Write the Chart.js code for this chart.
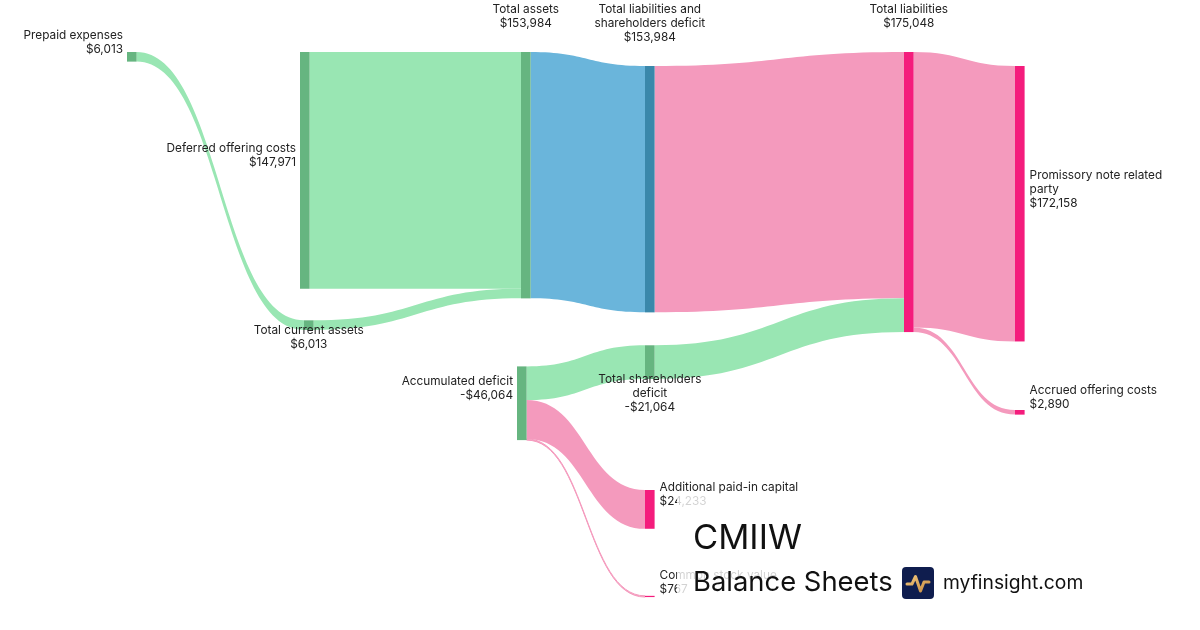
<!DOCTYPE html>
<html lang="en">
<head>
<meta charset="UTF-8">
<title>CMIIW Balance Sheets</title>
<script src="https://cdn.jsdelivr.net/npm/chart.js@4"></script>
<style>
    html, body { margin: 0; padding: 0; background: #fff; }
    #wrap { position: relative; width: 1200px; height: 630px; overflow: hidden; }
    #brand { position: absolute; left: 677px; top: 496px; width: 440px; height: 134px;
             background: rgba(255, 255, 255, 0.8); font-family: Inter, sans-serif; color: #111; }
    #brand span { position: absolute; line-height: 1; white-space: nowrap; }
    #ticker { left: 16px; top: 23.5px; font-size: 34.5px; }
    #sheet { left: 16px; top: 72.3px; font-size: 27.4px; }
    #site { left: 266px; top: 77.4px; font-size: 19.3px; }
    #logo { position: absolute; left: 225px; top: 71px; }
</style>
</head>
<body>
<div id="wrap">
    <canvas id="sankey" width="1200" height="630"></canvas>
    <div id="brand">
        <span id="ticker">CMIIW</span>
        <span id="sheet">Balance Sheets</span>
        <svg id="logo" width="32" height="32" viewBox="0 0 32 32">
            <defs>
                <linearGradient id="gold" x1="0" y1="0" x2="1" y2="1">
                    <stop offset="0" stop-color="#f0c47a"/>
                    <stop offset="1" stop-color="#c98f45"/>
                </linearGradient>
            </defs>
            <rect width="32" height="32" rx="4" fill="#0f1d4e"/>
            <polyline points="5,17 10,17 13.5,9.5 18.5,24 22,15 27,15" fill="none"
                      stroke="url(#gold)" stroke-width="3" stroke-linecap="round" stroke-linejoin="round"/>
        </svg>
        <span id="site">myfinsight.com</span>
    </div>
</div>

<script>
    // ---- data ----
    var nodeNames = [
        'Prepaid expenses',
        'Deferred offering costs',
        'Total current assets',
        'Total assets',
        'Accumulated deficit',
        'Total liabilities and shareholders deficit',
        'Total shareholders deficit',
        'Additional paid-in capital',
        'Common stock value',
        'Total liabilities',
        'Promissory note related party',
        'Accrued offering costs'
    ];
    var nodeValues = [6013, 147971, 6013, 153984, -46064, 153984, -21064, 24233, 767, 175048, 172158, 2890];

    var linkFrom = ['Prepaid expenses', 'Deferred offering costs', 'Total current assets', 'Total assets',
        'Accumulated deficit', 'Accumulated deficit', 'Accumulated deficit',
        'Total liabilities and shareholders deficit', 'Total shareholders deficit',
        'Total liabilities', 'Total liabilities'];
    var linkTo = ['Total current assets', 'Total assets', 'Total assets', 'Total liabilities and shareholders deficit',
        'Total shareholders deficit', 'Additional paid-in capital', 'Common stock value',
        'Total liabilities', 'Total liabilities',
        'Promissory note related party', 'Accrued offering costs'];
    var linkValues = [6013, 147971, 6013, 153984, 21064, 24233, 767, 153984, 21064, 172158, 2890];

    // ---- layout (x in px columns, top in value units) ----
    var NODE_W = 9.6;
    var nodeX   = [127, 300, 304, 521, 517, 645, 645, 645, 645, 904, 1015, 1015];
    var nodeTop = [32500, 32500, 200200, 32500, 229000, 41250, 215800, 306250, 372400, 32500, 41250, 256250];
    var labelSide = ['left', 'left', 'bottom', 'top', 'left', 'top', 'bottom', 'right', 'right', 'top', 'right', 'right'];

    // ---- styles ----
    var GREEN = { node: '#66b580', link: '#99e6b3' };
    var BLUE  = { node: '#3a88ab', link: '#6ab5db' };
    var PINK  = { node: '#f41c7c', link: '#f49abd' };
    var nodeColor = [GREEN, GREEN, GREEN, GREEN, GREEN, BLUE, GREEN, PINK, PINK, PINK, PINK, PINK];
    var linkColor = [GREEN, GREEN, GREEN, BLUE, GREEN, PINK, PINK, PINK, GREEN, PINK, PINK];

    function money(v) {
        return (v < 0 ? '-$' : '$') + Math.abs(v).toLocaleString('en-US');
    }

    function wrap(ctx, text, maxW) {
        if (!maxW) return [text];
        var words = text.split(' '), lines = [], line = '';
        words.forEach(function (w) {
            var test = line ? line + ' ' + w : w;
            if (line && ctx.measureText(test).width > maxW) {
                lines.push(line);
                line = w;
            } else {
                line = test;
            }
        });
        lines.push(line);
        return lines;
    }

    var sankeyPlugin = {
        id: 'sankey',
        afterDatasetsDraw: function (chart) {
            var ctx = chart.ctx, xs = chart.scales.x, ys = chart.scales.y;
            var outOff = nodeNames.map(function () { return 0; });
            var inOff = nodeNames.map(function () { return 0; });

            ctx.save();
            // links
            for (var i = 0; i < linkValues.length; i++) {
                var s = nodeNames.indexOf(linkFrom[i]), t = nodeNames.indexOf(linkTo[i]), v = linkValues[i];
                var x0 = xs.getPixelForValue(nodeX[s] + NODE_W), x1 = xs.getPixelForValue(nodeX[t]);
                var sy0 = ys.getPixelForValue(nodeTop[s] + outOff[s]);
                var sy1 = ys.getPixelForValue(nodeTop[s] + outOff[s] + v);
                var ty0 = ys.getPixelForValue(nodeTop[t] + inOff[t]);
                var ty1 = ys.getPixelForValue(nodeTop[t] + inOff[t] + v);
                outOff[s] += v;
                inOff[t] += v;
                var xm = (x0 + x1) / 2;
                ctx.beginPath();
                ctx.moveTo(x0, sy0);
                ctx.bezierCurveTo(xm, sy0, xm, ty0, x1, ty0);
                ctx.lineTo(x1, ty1);
                ctx.bezierCurveTo(xm, ty1, xm, sy1, x0, sy1);
                ctx.closePath();
                ctx.fillStyle = linkColor[i].link;
                ctx.fill();
                if (sy1 - sy0 < 1.5) {
                    ctx.strokeStyle = linkColor[i].link;
                    ctx.lineWidth = 1;
                    ctx.stroke();
                }
            }

            // nodes
            nodeNames.forEach(function (n, k) {
                var left = xs.getPixelForValue(nodeX[k]), right = xs.getPixelForValue(nodeX[k] + NODE_W);
                var top = ys.getPixelForValue(nodeTop[k]);
                var bottom = ys.getPixelForValue(nodeTop[k] + Math.abs(nodeValues[k]));
                ctx.fillStyle = nodeColor[k].node;
                ctx.fillRect(left, top, right - left, Math.max(bottom - top, 1));
            });

            // labels
            ctx.font = '11.8px Inter, sans-serif';
            ctx.fillStyle = '#222';
            ctx.textBaseline = 'middle';
            var LH = 14;
            nodeNames.forEach(function (n, k) {
                var left = xs.getPixelForValue(nodeX[k]), right = xs.getPixelForValue(nodeX[k] + NODE_W);
                var top = ys.getPixelForValue(nodeTop[k]);
                var bottom = ys.getPixelForValue(nodeTop[k] + Math.abs(nodeValues[k]));
                var mid = (top + bottom) / 2, cx = (left + right) / 2;
                var side = labelSide[k];
                var maxW = side === 'right' ? 150 : (side === 'left' ? 0 : 120);
                var lines = wrap(ctx, n, maxW).concat([money(nodeValues[k])]);
                var tx, y0;
                if (side === 'left') {
                    ctx.textAlign = 'right'; tx = left - 4;
                    y0 = mid - 14.5 - (lines.length - 1) * LH / 2;
                } else if (side === 'right') {
                    ctx.textAlign = 'left'; tx = right + 5;
                    y0 = mid - 14.5 - (lines.length - 1) * LH / 2;
                } else if (side === 'top') {
                    ctx.textAlign = 'center'; tx = cx;
                    y0 = top - 28.5 - (lines.length - 1) * LH;
                } else {
                    ctx.textAlign = 'center'; tx = cx;
                    y0 = bottom + 0.5;
                }
                lines.forEach(function (l, j) {
                    ctx.fillText(l, tx, y0 + j * LH);
                });
            });
            ctx.restore();
        }
    };

    var sankeyChart = new Chart(document.getElementById('sankey'), {
        type: 'scatter',
        data: { datasets: [{ data: [] }] },
        options: {
            responsive: false,
            animation: false,
            layout: { padding: 0 },
            plugins: { legend: { display: false }, tooltip: { enabled: false } },
            scales: {
                x: { type: 'linear', min: 0, max: 1200, display: false },
                y: { type: 'linear', min: 0, max: 393750, reverse: true, display: false }
            }
        },
        plugins: [sankeyPlugin]
    });
</script>
</body>
</html>
